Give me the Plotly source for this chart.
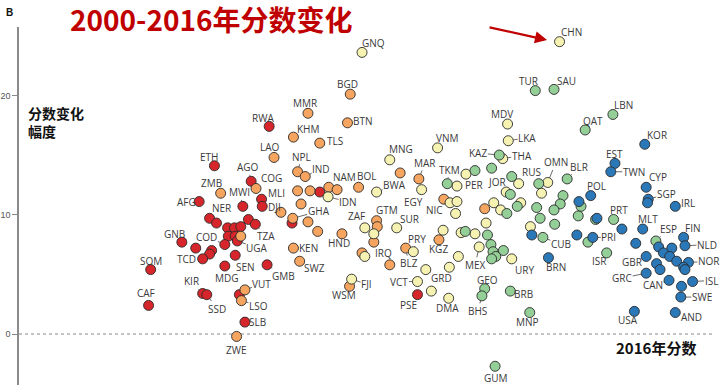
import plotly.graph_objects as go

# ---------------- data ----------------
codes = ["CHN","GNQ","TUR","SAU","BGD","LBN","MMR","MDV","BTN","RWA",
         "QAT","KHM","TLS","LKA","KOR","VNM","KAZ","THA","LAO","MNG",
         "EST","ETH","","TWN","NPL","","","PER","","IND",
         "MAR","BLR","AGO","OMN","RUS","","TKM","","CYP","NAM",
         "COG","BOL","","","","","EGY","JOR","BWA","",
         "ZMB","","POL","","IDN","NIC","SGP","MLI","","AFG",
         "","","","","","","","","","DJI",
         "MWI","IRL","","","","","","","","",
         "GHA","","NER","","","","PRT","GTM","","",
         "","","","TZA","","","","","","SUR",
         "ZAF","MLT","","","","","","HND","","",
         "","","","","","","CUB","FIN","PRI","KGZ",
         "ESP","UGA","GNB","IRQ","","","COD","","NLD","",
         "MEX","","","KEN","BLZ","","","","PRY","",
         "ISR","","","SEN","","","GBR","","","BRN",
         "","URY","TCD","","SWZ","NOR","","GMB","","MDG",
         "","","SOM","GRD","","","GRC","FJI","CAN","VCT",
         "ISL","","WSM","GEO","VUT","","BRB","KIR","","PSE",
         "SSD","BHS","SWE","DMA","LSO","CAF","USA","AND","MNP","SLB",
         "ZWE","GUM"]

score_2016 = [78.0,49.5,74.5,77.2,47.8,85.7,41.7,70.5,47.4,36.1,
              81.7,39.6,43.4,70.6,90.3,60.4,69.3,69.8,36.8,53.5,
              86.0,28.2,68.2,85.4,40.2,55.0,65.8,64.5,71.1,41.3,
              57.7,79.1,33.5,76.3,75.0,72.1,61.8,63.2,90.5,44.7,
              34.2,49.0,40.2,42.0,43.4,45.9,58.1,70.3,51.6,75.4,
              29.1,70.9,82.5,78.5,44.6,61.3,90.8,35.0,80.8,26.0,
              62.2,63.2,68.5,72.4,90.7,78.1,40.7,71.9,81.1,35.1,
              32.3,94.7,74.7,67.2,69.5,77.2,37.8,63.0,70.4,80.7,
              39.5,75.2,27.5,33.1,83.4,83.2,85.8,51.6,41.7,28.5,
              39.4,67.4,77.3,34.1,30.1,31.1,32.0,51.7,73.8,54.5,
              49.9,90.0,87.0,61.2,43.1,64.4,63.8,46.6,51.2,65.8,
              74.0,80.5,67.6,30.2,31.2,32.0,75.6,95.9,82.8,60.6,
              91.9,31.5,23.5,51.2,82.1,89.0,29.7,68.1,96.1,92.3,
              66.4,94.2,25.5,39.6,55.8,69.9,27.8,68.4,56.9,49.5,
              84.8,93.0,27.5,31.2,49.9,63.4,90.5,93.9,68.8,76.4,
              68.2,71.1,26.5,94.9,40.5,96.6,92.0,35.8,53.5,29.7,
              62.1,95.9,19.0,58.7,92.5,96.1,90.5,48.0,93.8,57.5,
              97.2,95.6,47.7,67.2,32.6,59.5,70.9,26.5,31.8,57.5,
              27.1,66.8,95.5,62.0,32.1,18.7,88.8,94.7,73.7,32.6,
              31.4,68.7]

change = [24.5,23.6,20.4,20.5,20.1,18.4,18.5,17.6,17.7,17.4,
          17.1,16.5,16.0,16.2,15.9,15.6,15.0,14.7,14.8,14.6,
          14.3,14.1,13.9,13.6,13.6,13.5,13.7,13.4,13.2,13.2,
          13.0,13.0,12.8,12.7,12.6,12.6,12.6,12.4,12.3,12.3,
          12.2,12.3,12.0,12.0,11.9,12.1,12.1,11.9,11.9,11.8,
          11.8,11.7,11.6,11.6,11.5,11.3,11.3,11.3,11.1,11.1,
          11.0,11.1,11.0,11.0,11.0,10.9,10.9,10.7,10.7,10.7,
          10.7,10.7,10.6,10.5,10.4,10.4,10.2,10.1,10.1,9.9,
          9.7,9.7,9.7,9.6,9.7,9.6,9.6,9.5,9.4,9.3,
          9.3,9.3,9.2,9.2,8.9,8.9,9.0,9.0,9.0,8.9,
          8.9,8.8,8.8,8.7,8.6,8.6,8.5,8.4,8.4,8.4,
          8.3,8.3,8.3,8.2,8.2,8.2,8.1,8.1,8.1,7.9,
          7.8,7.8,7.7,7.7,7.7,7.6,7.5,7.5,7.4,7.3,
          7.3,7.2,7.2,7.2,7.2,7.0,7.0,6.9,6.9,6.8,
          6.8,6.8,6.7,6.6,6.5,6.5,6.5,6.5,6.5,6.4,
          6.3,6.3,6.3,6.1,6.1,6.0,5.9,5.8,5.8,5.7,
          5.6,5.6,5.4,5.4,5.4,5.4,5.1,4.6,4.5,4.4,
          4.4,4.0,4.0,3.8,3.7,3.6,3.6,3.4,3.3,3.3,
          3.3,3.2,3.1,3.0,2.8,2.4,1.9,1.8,1.8,1.0,
          -0.2,-2.7]

# SDI group: R=low, O=low-middle, P=middle, G=high-middle, B=high
sdi = ["P","P","G","G","O","G","O","P","O","R",
       "G","O","O","P","B","P","G","P","O","P",
       "B","R","G","B","O","O","G","P","G","O",
       "O","G","R","P","G","P","G","P","B","O",
       "O","O","O","O","R","O","P","P","P","P",
       "O","G","B","G","P","O","B","R","B","R",
       "P","P","P","P","B","G","O","G","G","R",
       "R","B","G","O","P","G","O","P","G","G",
       "O","G","R","R","B","G","G","O","O","R",
       "R","P","G","R","R","R","R","O","P","P",
       "P","B","B","P","O","G","P","O","P","P",
       "B","B","G","R","R","O","G","B","B","O",
       "G","R","R","O","G","B","R","G","B","B",
       "P","B","R","O","O","G","R","G","P","O",
       "G","B","R","R","P","P","B","B","G","B",
       "G","P","R","B","O","B","B","R","O","R",
       "P","B","R","P","B","B","B","P","B","P",
       "B","B","O","G","O","P","G","R","R","R",
       "R","G","B","P","O","R","B","B","G","R",
       "O","G"]

group_order = ["R", "O", "P", "G", "B"]
group_colors = {"R": "#d7262b", "O": "#f6a560", "P": "#f6f3b2",
                "G": "#95cf98", "B": "#2b78b9"}

# label offsets in pixels (dx, dy, leader line)
label_pos = {
    "CHN": (12,-10,0), "GNQ": (11,-9,0), "TUR": (-7,-10,0), "SAU": (12,-8,0),
    "BGD": (-3,-10,0), "LBN": (11,-9,0), "MMR": (-3,-10,0), "MDV": (-6,-10,0),
    "BTN": (16,-2,0), "RWA": (-6,-8,0), "QAT": (8,-9,0), "KHM": (15,-8,0),
    "TLS": (15,-2,0), "LKA": (19,-3,1), "KOR": (12,-9,0), "VNM": (10,-10,0),
    "KAZ": (-21,-2,1), "THA": (19,-3,1), "LAO": (-4,-10,0), "MNG": (11,-11,0),
    "EST": (0,-9,0), "ETH": (-5,-9,0), "TWN": (23,0,1), "NPL": (4,-15,1),
    "PER": (8,11,1), "IND": (16,-8,1), "MAR": (6,-16,1), "BLR": (12,-12,1),
    "AGO": (-3,-14,1), "OMN": (8,-20,1), "RUS": (-7,-12,1), "TKM": (2,-14,1),
    "CYP": (12,-10,1), "NAM": (16,-10,1), "COG": (15,-10,1), "BOL": (8,-11,0),
    "EGY": (-8,12,1), "JOR": (-9,-10,1), "BWA": (18,-7,1), "ZMB": (-9,-10,1),
    "POL": (6,-10,0), "IDN": (20,5,1), "NIC": (-9,11,1), "SGP": (18,-5,1),
    "MLI": (15,-6,0), "DJI": (12,1,0), "AFG": (-13,0,0), "MWI": (-3,-14,1),
    "IRL": (13,-3,0), "NER": (12,-10,1), "GHA": (26,-7,1), "PRT": (5,-9,0),
    "GTM": (10,-11,1), "TZA": (11,12,1), "SUR": (13,-9,1), "ZAF": (-8,-12,1),
    "MLT": (5,-10,0), "HND": (-3,9,0), "CUB": (18,7,1), "FIN": (9,-9,0),
    "PRI": (16,0,1), "KGZ": (0,9,0), "ESP": (13,-12,1), "UGA": (20,7,1),
    "GNB": (-7,-8,0), "IRQ": (10,11,1), "COD": (-18,-8,1), "NLD": (22,-1,1),
    "KEN": (15,0,0), "PRY": (4,-13,1), "ISR": (-8,8,0), "SEN": (10,12,1),
    "MEX": (-4,18,1), "GBR": (-14,6,1), "BRN": (8,9,0), "URY": (13,11,0),
    "TCD": (-16,0,0), "SWZ": (15,7,1), "NOR": (20,-1,1), "GMB": (16,11,1),
    "BLZ": (3,15,1), "MDG": (2,12,0), "SOM": (0,-9,0), "GRD": (16,8,1),
    "GRC": (-24,5,1), "FJI": (15,5,1), "CAN": (-16,5,1), "VCT": (-18,0,1),
    "ISL": (19,-1,1), "WSM": (-6,9,0), "GEO": (3,-9,0), "VUT": (17,-6,1),
    "BRB": (13,3,0), "KIR": (-11,-12,1), "PSE": (-9,10,0), "SSD": (10,14,1),
    "BHS": (-4,15,1), "SWE": (21,0,1), "DMA": (-1,10,0), "LSO": (17,5,1),
    "CAF": (-3,-12,0), "USA": (-6,9,0), "AND": (16,4,0), "MNP": (-2,9,0),
    "SLB": (13,0,0), "ZWE": (0,14,0), "GUM": (1,12,0),
}

title_text = "2000-2016年分数变化"
y_title = "分数变化<br>幅度"
x_title = "2016年分数"
panel = "B"
y_ticks = [0, 10, 20]

# plot area in pixels (for placing free texts)
L, T, W, H = 19, 27, 693, 358


def px(xp):
    return (xp - L) / W


def py(yp):
    return (T + H - yp) / H


# ---------------- figure ----------------
fig = go.Figure()
for g in group_order:
    idx = [i for i, s in enumerate(sdi) if s == g]
    fig.add_trace(go.Scatter(
        x=[score_2016[i] for i in idx],
        y=[change[i] for i in idx],
        mode="markers",
        marker=dict(size=10, color=group_colors[g],
                    line=dict(color="#2a2a2a", width=0.9)),
        hoverinfo="skip", showlegend=False))

# zero line
fig.add_shape(type="line", xref="x", yref="y", x0=0, x1=100, y0=0, y1=0,
              line=dict(color="#8a8a8a", width=1, dash="3px,3px"), layer="below")

lab_font = dict(family="Open Sans, Liberation Sans, sans-serif", size=10, color="#3a3a3a")
for c, xv, yv in zip(codes, score_2016, change):
    if not c or c not in label_pos:
        continue
    dx, dy, lead = label_pos[c]
    if lead:
        fig.add_annotation(x=xv, y=yv, text=c, showarrow=True, arrowhead=0,
                           ax=dx, ay=dy, arrowwidth=0.8, arrowcolor="#444",
                           standoff=5, borderpad=0, font=lab_font)
    else:
        fig.add_annotation(x=xv, y=yv, text=c, showarrow=False,
                           xanchor="center", yanchor="middle",
                           xshift=dx, yshift=-dy, font=lab_font)

# red arrow pointing at CHN
fig.add_annotation(x=76.2, y=24.64, ax=-59, ay=-13, text="", showarrow=True,
                   arrowhead=2, arrowsize=1.1, arrowwidth=2.2, arrowcolor="#c00000")

# texts
fig.add_annotation(xref="paper", yref="paper", x=px(211), y=py(19),
                   xanchor="center", yanchor="middle", borderpad=0,
                   text="<b>" + title_text + "</b>", showarrow=False,
                   font=dict(family="Noto Sans CJK SC", size=28, color="#c00000"))
fig.add_annotation(xref="paper", yref="paper", x=px(9), y=py(12),
                   xanchor="center", yanchor="middle",
                   text="<b>" + panel + "</b>", showarrow=False,
                   font=dict(family="Liberation Sans", size=10, color="#111"))
fig.add_annotation(xref="paper", yref="paper", x=px(26), y=py(122),
                   text="<b>" + y_title + "</b>", showarrow=False, align="left",
                   xanchor="left", yanchor="middle",
                   font=dict(family="Noto Sans CJK SC", size=14, color="#111"))
fig.add_annotation(xref="paper", yref="paper", x=px(656), y=py(347),
                   xanchor="center", yanchor="middle",
                   text="<b>" + x_title + "</b>", showarrow=False,
                   font=dict(family="Noto Sans CJK SC", size=15, color="#111"))

fig.update_layout(
    width=720, height=385,
    margin=dict(l=L, r=720 - L - W, t=T, b=0),
    plot_bgcolor="white", paper_bgcolor="white",
    xaxis=dict(range=[0, 100], visible=False, fixedrange=True),
    yaxis=dict(range=[-4.27, 25.73], tickvals=y_ticks, ticks="outside",
               ticklen=5, tickwidth=1, tickcolor="#888",
               showline=True, linecolor="#8a8a8a", linewidth=1.5,
               showgrid=False, zeroline=False,
               tickfont=dict(family="Liberation Sans", size=9, color="#555")),
)

fig.write_html("out.html")
